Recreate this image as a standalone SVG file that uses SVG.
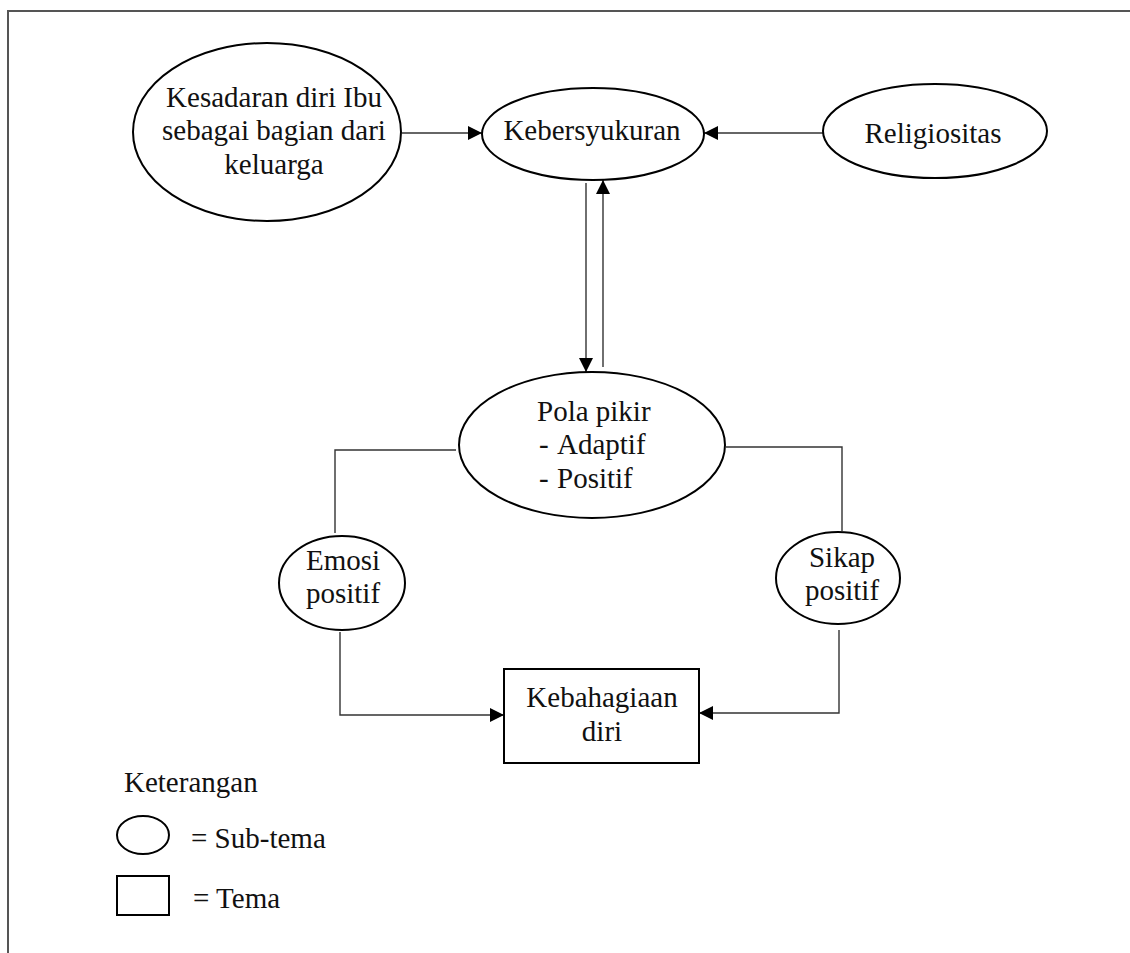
<svg xmlns="http://www.w3.org/2000/svg" width="1130" height="953" viewBox="0 0 1130 953">
<defs>
<marker id="ah" markerUnits="userSpaceOnUse" markerWidth="14" markerHeight="14" viewBox="0 0 14 14" refX="14" refY="7" orient="auto">
<path d="M0,0 L14,7 L0,14 Z" fill="#000"/>
</marker>
</defs>
<style>
.n{fill:#fff;stroke:#000;stroke-width:2}
.t{font-family:"Liberation Serif","Times New Roman",serif;font-size:29px;fill:#111}
.c{text-anchor:middle}
.e{fill:none;stroke:#333;stroke-width:1.4}
</style>
<rect width="1130" height="953" fill="#fff"/>
<path d="M8,953 L8,11 L1130,11" fill="none" stroke="#555" stroke-width="2"/>
<g id="connectors">
<line class="e" x1="402" y1="133" x2="482" y2="133" marker-end="url(#ah)"/>
<line class="e" x1="823" y1="133" x2="704" y2="133" marker-end="url(#ah)"/>
<line class="e" x1="586" y1="183" x2="586" y2="372" marker-end="url(#ah)"/>
<line class="e" x1="603" y1="367" x2="603" y2="180" marker-end="url(#ah)"/>
<polyline class="e" points="456,450 335,450 335,533"/>
<polyline class="e" points="340,632 340,715 504,715" marker-end="url(#ah)"/>
<polyline class="e" points="726,447 842,447 842,531"/>
<polyline class="e" points="839,630 839,713 699,713" marker-end="url(#ah)"/>
</g>
<g id="kesadaran">
<ellipse class="n" cx="267" cy="132" rx="134" ry="89"/>
<text class="t c" x="274" y="107">Kesadaran diri Ibu</text>
<text class="t c" x="274" y="140">sebagai bagian dari</text>
<text class="t c" x="274" y="174">keluarga</text>
</g>
<g id="kebersyukuran">
<ellipse class="n" cx="593" cy="134" rx="111" ry="46"/>
<text class="t c" x="592" y="140">Kebersyukuran</text>
</g>
<g id="religiositas">
<ellipse class="n" cx="935" cy="131" rx="112" ry="47"/>
<text class="t c" x="933" y="143">Religiositas</text>
</g>
<g id="polapikir">
<ellipse class="n" cx="592" cy="445" rx="133" ry="73"/>
<text class="t" x="537" y="421">Pola pikir</text>
<text class="t" y="454"><tspan x="539">-</tspan><tspan x="557">Adaptif</tspan></text>
<text class="t" y="488"><tspan x="539">-</tspan><tspan x="557">Positif</tspan></text>
</g>
<g id="emosi">
<ellipse class="n" cx="342" cy="583" rx="63" ry="47"/>
<text class="t c" x="343" y="570">Emosi</text>
<text class="t c" x="343" y="603">positif</text>
</g>
<g id="sikap">
<ellipse class="n" cx="838" cy="578" rx="62" ry="46"/>
<text class="t c" x="842" y="567">Sikap</text>
<text class="t c" x="842" y="600">positif</text>
</g>
<g id="kebahagiaan">
<rect class="n" x="504" y="669" width="195" height="94"/>
<text class="t c" x="602" y="707">Kebahagiaan</text>
<text class="t c" x="602" y="741">diri</text>
</g>
<g id="legend">
<text class="t" x="124" y="792">Keterangan</text>
<ellipse class="n" cx="143" cy="835" rx="26" ry="19"/>
<text class="t" x="191" y="848">= Sub-tema</text>
<rect class="n" x="117" y="876" width="52" height="39"/>
<text class="t" x="193" y="908">= Tema</text>
</g>
</svg>
